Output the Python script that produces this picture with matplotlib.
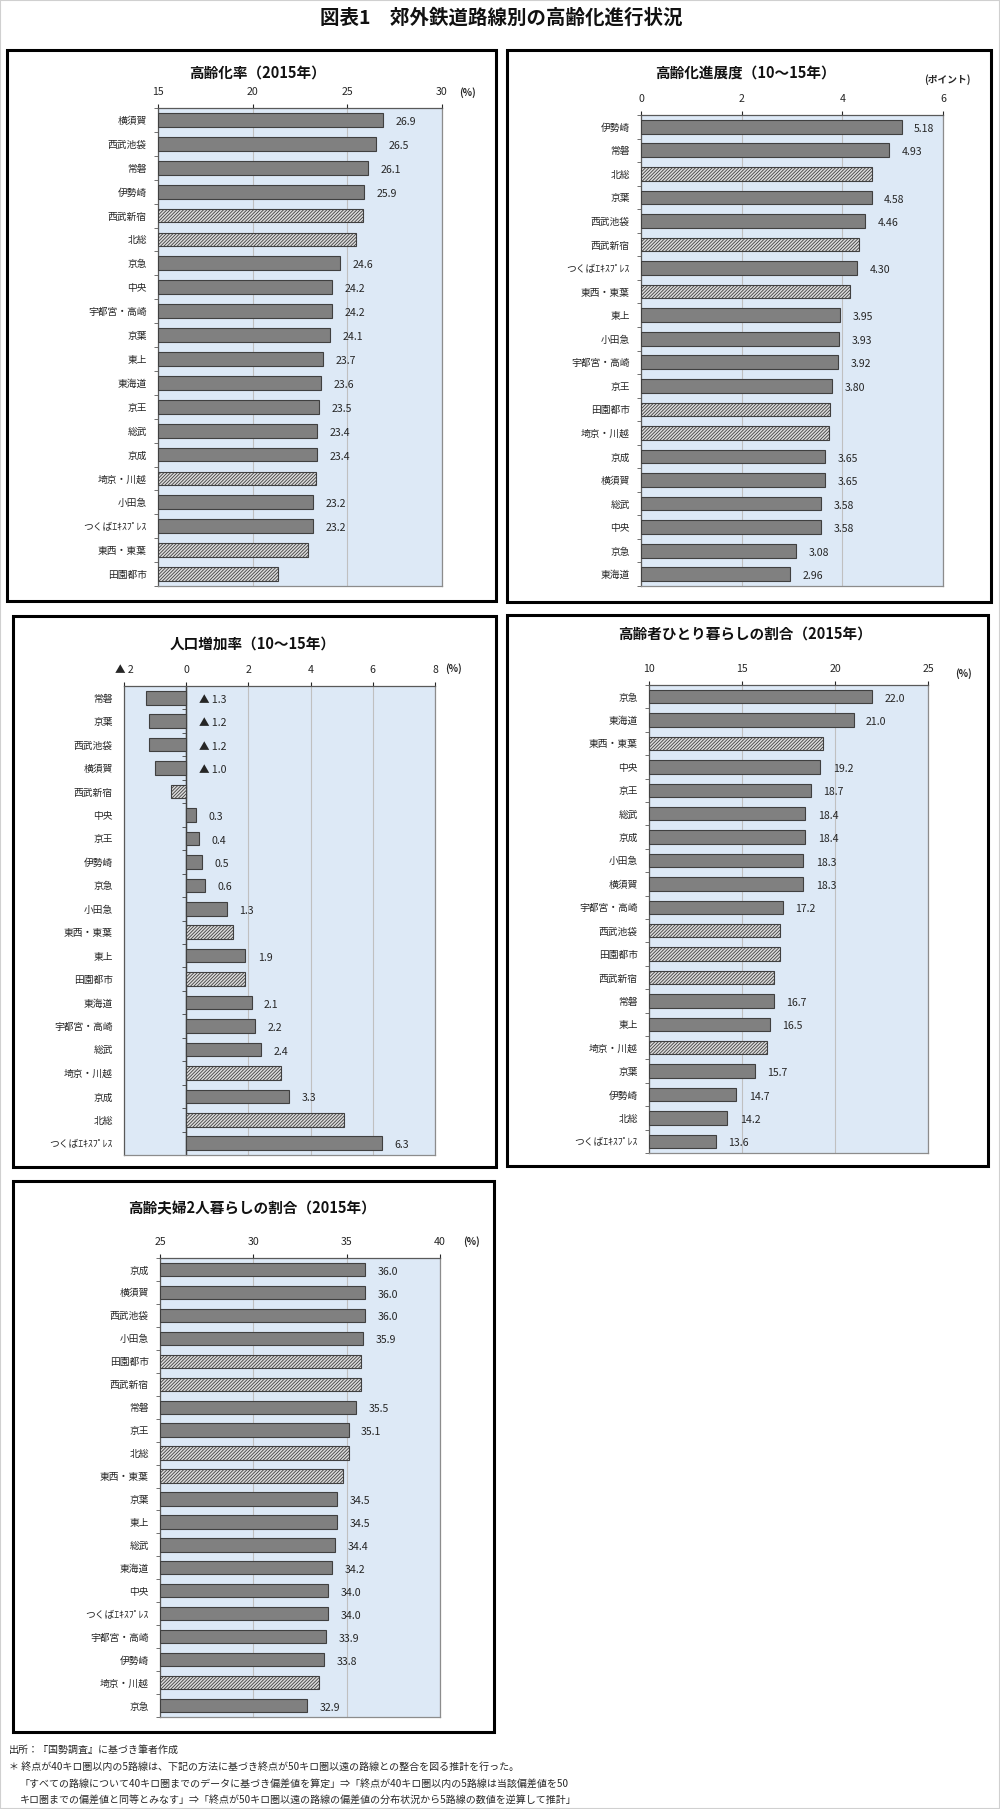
import matplotlib
matplotlib.use('Agg')
import matplotlib.pyplot as plt
from matplotlib.patches import Rectangle
from matplotlib.ticker import FixedLocator, FuncFormatter

plt.rcParams['font.family'] = ['Noto Sans CJK JP', 'DejaVu Sans']
plt.rcParams['hatch.linewidth'] = 0.6

W, H = 1000, 1809

# 高齢化率（2015年）
aging_lines = ['横須賀', '西武池袋', '常磐', '伊勢崎', '西武新宿', '北総', '京急', '中央',
               '宇都宮・高崎', '京葉', '東上', '東海道', '京王', '総武', '京成', '埼京・川越',
               '小田急', 'つくばｴｷｽﾌﾟﾚｽ', '東西・東葉', '田園都市']
aging_vals = [26.9, 26.5, 26.1, 25.9, 25.85, 25.46, 24.6, 24.2, 24.2, 24.1, 23.7, 23.6,
              23.5, 23.4, 23.4, 23.32, 23.2, 23.2, 22.93, 21.35]
aging_est = ['西武新宿', '北総', '埼京・川越', '東西・東葉', '田園都市']

# 高齢化進展度（10〜15年）
prog_lines = ['伊勢崎', '常磐', '北総', '京葉', '西武池袋', '西武新宿', 'つくばｴｷｽﾌﾟﾚｽ',
              '東西・東葉', '東上', '小田急', '宇都宮・高崎', '京王', '田園都市', '埼京・川越',
              '京成', '横須賀', '総武', '中央', '京急', '東海道']
prog_vals = [5.18, 4.93, 4.59, 4.58, 4.46, 4.33, 4.30, 4.15, 3.95, 3.93, 3.92, 3.80,
             3.76, 3.73, 3.65, 3.65, 3.58, 3.58, 3.08, 2.96]
prog_est = ['北総', '西武新宿', '東西・東葉', '田園都市', '埼京・川越']

# 人口増加率（10〜15年）
pop_lines = ['常磐', '京葉', '西武池袋', '横須賀', '西武新宿', '中央', '京王', '伊勢崎',
             '京急', '小田急', '東西・東葉', '東上', '田園都市', '東海道', '宇都宮・高崎',
             '総武', '埼京・川越', '京成', '北総', 'つくばｴｷｽﾌﾟﾚｽ']
pop_vals = [-1.3, -1.2, -1.2, -1.0, -0.5, 0.3, 0.4, 0.5, 0.6, 1.3, 1.52, 1.9, 1.89,
            2.1, 2.2, 2.4, 3.04, 3.3, 5.07, 6.3]
pop_est = ['西武新宿', '東西・東葉', '田園都市', '埼京・川越', '北総']

# 高齢者ひとり暮らしの割合（2015年）
single_lines = ['京急', '東海道', '東西・東葉', '中央', '京王', '総武', '京成', '小田急',
                '横須賀', '宇都宮・高崎', '西武池袋', '田園都市', '西武新宿', '常磐', '東上',
                '埼京・川越', '京葉', '伊勢崎', '北総', 'つくばｴｷｽﾌﾟﾚｽ']
single_vals = [22.0, 21.0, 19.34, 19.2, 18.7, 18.4, 18.4, 18.3, 18.3, 17.2, 17.06, 17.03,
               16.74, 16.7, 16.5, 16.36, 15.7, 14.7, 14.2, 13.6]
single_est = ['東西・東葉', '西武池袋', '田園都市', '西武新宿', '埼京・川越']

# 高齢夫婦2人暮らしの割合（2015年）
couple_lines = ['京成', '横須賀', '西武池袋', '小田急', '田園都市', '西武新宿', '常磐', '京王',
                '北総', '東西・東葉', '京葉', '東上', '総武', '東海道', '中央', 'つくばｴｷｽﾌﾟﾚｽ',
                '宇都宮・高崎', '伊勢崎', '埼京・川越', '京急']
couple_vals = [36.0, 36.0, 36.0, 35.9, 35.76, 35.76, 35.5, 35.1, 35.1, 34.83, 34.5, 34.5,
               34.4, 34.2, 34.0, 34.0, 33.9, 33.8, 33.5, 32.9]
couple_est = ['田園都市', '西武新宿', '北総', '東西・東葉', '埼京・川越']

notes = ['出所：『国勢調査』に基づき筆者作成',
         '＊ 終点が40キロ圏以内の5路線は、下記の方法に基づき終点が50キロ圏以遠の路線との整合を図る推計を行った。',
         '「すべての路線について40キロ圏までのデータに基づき偏差値を算定」⇒「終点が40キロ圏以内の5路線は当該偏差値を50',
         'キロ圏までの偏差値と同等とみなす」⇒「終点が50キロ圏以遠の路線の偏差値の分布状況から5路線の数値を逆算して推計」']

SOLID = '#808080'
HATCH_FACE = '#dcdcdc'
EDGE = '#404040'
BG = '#dde9f6'
TXT = '#262626'


def fx(x):
    return x / W


def fy(y):
    return 1 - y / H


fig = plt.figure(figsize=(W / 100, H / 100), dpi=100)

fig.add_artist(Rectangle((0, 0), 1, 1, transform=fig.transFigure, fill=False,
                         ec='#d0d0d0', lw=1.5))
fig.text(fx(501), fy(18), '図表1　郊外鉄道路線別の高齢化進行状況', ha='center', va='center',
         fontsize=14, fontweight='bold', color='#111111')


def panel(box, rect, title, title_xy, unit, unit_xy, lines, vals, est,
          xlim, xticks, lab_fmt, tick_fmt=None, zero_axis=False):
    x0, y0, x1, y1 = box
    fig.add_artist(Rectangle((fx(x0), fy(y1)), (x1 - x0) / W, (y1 - y0) / H,
                             transform=fig.transFigure, fill=False, ec='black', lw=2.2))
    ax0, ay0, ax1, ay1 = rect
    ax = fig.add_axes([fx(ax0), fy(ay1), (ax1 - ax0) / W, (ay1 - ay0) / H])
    ax.set_facecolor(BG)
    n = len(lines)
    base = xlim[0] if xlim[0] > 0 else 0
    for i, (name, v) in enumerate(zip(lines, vals)):
        hatched = name in est
        ax.barh(i, v - base, left=base, height=0.58,
                color=HATCH_FACE if hatched else SOLID, edgecolor=EDGE, lw=0.8,
                hatch='//////////' if hatched else None, zorder=3)
        if not hatched:
            ax.annotate(lab_fmt(v), xy=(max(v, 0), i), xytext=(9, -1.5),
                        textcoords='offset points', ha='left', va='center',
                        fontsize=7.6, color=TXT, zorder=4)
    ax.set_xlim(*xlim)
    ax.set_ylim(n - 0.5, -0.5)
    ax.set_xticks(xticks)
    if tick_fmt is not None:
        ax.xaxis.set_major_formatter(FuncFormatter(tick_fmt))
    ax.xaxis.tick_top()
    ax.xaxis.grid(True, color='#c0c0c0', lw=0.8)
    ax.set_axisbelow(True)
    ax.tick_params(axis='x', which='major', length=3, pad=5, labelsize=7.6,
                   colors=TXT, direction='out')
    ax.set_yticks(range(n))
    ax.set_yticklabels(lines)
    ax.tick_params(axis='y', which='major', length=0, pad=8, labelsize=7, colors=TXT)
    for s in ax.spines.values():
        s.set_color('#8c8c8c')
        s.set_linewidth(0.9)
    ax.spines['top'].set_color('#595959')
    ax.spines['left'].set_color('#595959')
    bounds = [i - 0.5 for i in range(n + 1)]
    if zero_axis:
        ax.axvline(0, color='#404040', lw=1.0, zorder=2)
        loc = (0 - xlim[0]) / (xlim[1] - xlim[0])
        sec = ax.secondary_yaxis(loc)
        sec.set_yticks([])
        sec.yaxis.set_minor_locator(FixedLocator(bounds))
        sec.tick_params(which='minor', length=3, direction='out', color='#404040')
        sec.spines['left'].set_color('#404040')
    else:
        ax.yaxis.set_minor_locator(FixedLocator(bounds))
        ax.tick_params(axis='y', which='minor', length=3, direction='out', color='#595959')
    fig.text(fx(title_xy[0]), fy(title_xy[1]), title, ha='center', va='center',
             fontsize=10.5, fontweight='bold', color='#111111')
    fig.text(fx(unit_xy[0]), fy(unit_xy[1]), unit, ha='center', va='center',
             fontsize=7, fontweight='bold', color=TXT)
    return ax


def one(v):
    return f'{v:.1f}'


def two(v):
    return f'{v:.2f}'


def tri(v):
    return f'▲ {abs(v):.1f}' if v < 0 else f'{v:.1f}'


def tri_tick(v, pos):
    return f'▲ {abs(v):g}' if v < 0 else f'{v:g}'


panel((7, 50, 496, 601), (158, 108, 442, 586), '高齢化率（2015年）', (258, 73),
      '(%)', (467, 93), aging_lines, aging_vals, aging_est,
      (15, 30), [15, 20, 25, 30], one)

panel((507, 50, 991, 602), (641, 115, 943, 586), '高齢化進展度（10～15年）', (745, 73),
      '(ポイント)', (947, 80), prog_lines, prog_vals, prog_est,
      (0, 6), [0, 2, 4, 6], two)

panel((13, 616, 496, 1167), (124, 686, 435, 1155), '人口増加率（10～15年）', (253, 644),
      '(%)', (453, 669), pop_lines, pop_vals, pop_est,
      (-2, 8), [-2, 0, 2, 4, 6, 8], tri, tick_fmt=tri_tick, zero_axis=True)

panel((507, 615, 988, 1166), (649, 685, 928, 1153), '高齢者ひとり暮らしの割合（2015年）',
      (745, 634), '(%)', (963, 674), single_lines, single_vals, single_est,
      (10, 25), [10, 15, 20, 25], one)

panel((13, 1181, 494, 1732), (160, 1258, 440, 1717), '高齢夫婦2人暮らしの割合（2015年）',
      (252, 1208), '(%)', (472, 1242), couple_lines, couple_vals, couple_est,
      (25, 40), [25, 30, 35, 40], one)

note_pos = [(9, 1750), (9, 1767), (20, 1785), (20, 1801)]
for (x, y), t in zip(note_pos, notes):
    fig.text(fx(x), fy(y), t, ha='left', va='center', fontsize=7.2, color=TXT)

fig.savefig('out.png', dpi=100)
